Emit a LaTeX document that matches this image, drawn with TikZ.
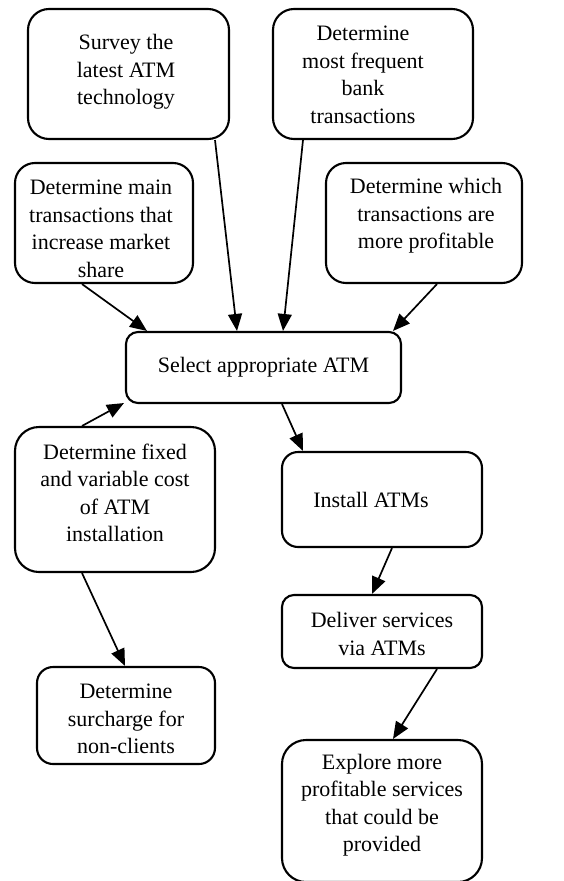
\documentclass[tikz,border=0pt]{standalone}
\usepackage{fontspec}
\setmainfont{Liberation Serif}
\usetikzlibrary{arrows.meta}

\begin{document}
\begin{tikzpicture}[x=1pt,y=-1pt,
  box/.style={draw, line width=2.1pt, rounded corners=#1, inner sep=0pt},
  box/.default=16pt,
  txt/.style={align=center, inner sep=0pt,
    font=\fontsize{22}{27.5}\selectfont},
  arr/.style={line width=1.7pt, -{Triangle[length=17pt,width=14pt]}}]

\useasboundingbox (0,0) rectangle (564,881);

% boxes
\node[box=21pt, minimum width=201pt, minimum height=130pt] (survey)   at (128.5,74)  {};
\node[box=21pt, minimum width=200pt, minimum height=130pt] (frequent) at (373,74)    {};
\node[box=20pt, minimum width=178pt, minimum height=120pt] (share)    at (104,223)   {};
\node[box=20pt, minimum width=196pt, minimum height=120pt] (profit)   at (424,223)   {};
\node[box=12pt, minimum width=275pt, minimum height=71pt]  (select)   at (263.5,367.5) {};
\node[box=24pt, minimum width=200pt, minimum height=145pt] (cost)     at (115,499.5) {};
\node[box=16pt, minimum width=200pt, minimum height=95pt]  (install)  at (382,499.5) {};
\node[box=12pt, minimum width=200pt, minimum height=73pt]  (deliver)  at (382,631.5) {};
\node[box=16pt, minimum width=178pt, minimum height=97pt]  (surcharge) at (126,715.5) {};
\node[box=24pt, minimum width=200pt, minimum height=142pt] (explore)  at (382,811)   {};

% labels
\node[txt] (survey-t)    at (126,72)    {Survey the\\latest ATM\\technology};
\node[txt] (frequent-t)  at (363,75)    {Determine\\most frequent\\bank\\transactions};
\node[txt] (share-t)     at (101,229)   {Determine main\\transactions that\\increase market\\share};
\node[txt] (profit-t)    at (426,216)   {Determine which\\transactions are\\more profitable};
\node[txt] (select-t)    at (263.5,367.5) {Select appropriate ATM};
\node[txt] (cost-t)      at (115,493)   {Determine fixed\\and variable cost\\of ATM\\installation};
\node[txt] (install-t)   at (371,500)   {Install ATMs};
\node[txt] (deliver-t)   at (382,634)   {Deliver services\\via ATMs};
\node[txt] (surcharge-t) at (126,719)   {Determine\\surcharge for\\non-clients};
\node[txt] (explore-t)   at (382,805)   {Explore more\\profitable services\\that could be\\provided};

% connectors
\draw[arr] ([xshift=86.5pt]survey.south)  -- ([xshift=-26.5pt]select.north);
\draw[arr] ([xshift=-70pt]frequent.south) -- ([xshift=19.5pt]select.north);
\draw[arr] ([xshift=-22pt]share.south)    -- ([xshift=-116.5pt]select.north);
\draw[arr] ([xshift=13pt]profit.south)    -- ([xshift=129.5pt]select.north);
\draw[arr] ([xshift=-33pt]cost.north)     -- ([xshift=-1pt,yshift=1pt]select.south west);
\draw[arr] ([xshift=18.5pt]select.south)  -- ([xshift=-79pt]install.north);
\draw[arr] ([xshift=10pt]install.south)   -- ([xshift=-10pt]deliver.north);
\draw[arr] ([xshift=-33pt]cost.south)     -- ([xshift=-1pt]surcharge.north);
\draw[arr] ([xshift=55pt]deliver.south)   -- ([xshift=11pt]explore.north);

\end{tikzpicture}
\end{document}
